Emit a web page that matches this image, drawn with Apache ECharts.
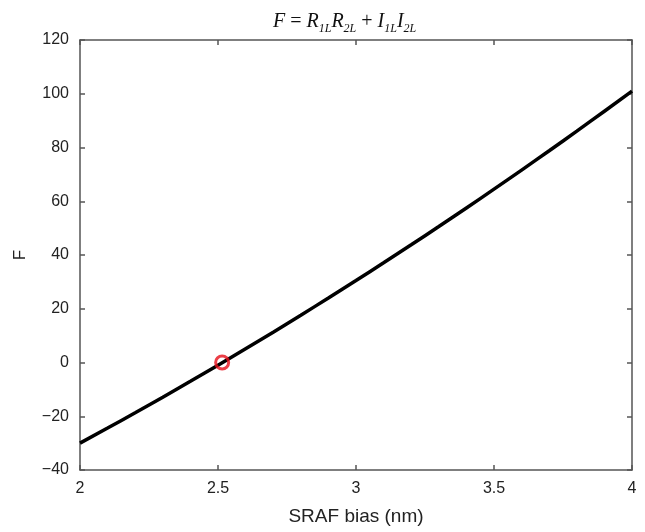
<!DOCTYPE html>
<html>
<head>
<meta charset="utf-8">
<script src="https://cdn.jsdelivr.net/npm/echarts@6/dist/echarts.min.js"></script>
<style>html,body{margin:0;padding:0;background:#fff}#c{width:645px;height:532px}</style>
</head>
<body>
<div id="c"></div>
<script>
var biasValues = [2.0, 2.1, 2.2, 2.3, 2.4, 2.5, 2.6, 2.7, 2.8, 2.9, 3.0, 3.1, 3.2, 3.3, 3.4, 3.5, 3.6, 3.7, 3.8, 3.9, 4.0];
var fValues = [-30, -24.4, -18.7, -12.9, -7.0, -1.0, 5.1, 11.3, 17.6, 24.0, 30.5, 37.1, 43.8, 50.6, 57.5, 64.5, 71.6, 78.8, 86.1, 93.5, 101];
var zeroPoint = [2.515, 0];
var xTicks = [2, 2.5, 3, 3.5, 4];
var yTicks = [-40, -20, 0, 20, 40, 60, 80, 100, 120];

var lineData = biasValues.map(function (x, i) { return [x, fValues[i]]; });
var chart = echarts.init(document.getElementById('c'));
var axisColor = '#555';
var labelFont = { fontFamily: 'Liberation Sans, Arial, sans-serif', fontSize: 16, color: '#222' };
function fmt(v) { return String(v).replace('-', '\u2212'); }
var common = {
  axisLine: { show: true, onZero: false, lineStyle: { color: axisColor, width: 1.5 } },
  axisTick: { show: true, inside: true, length: 5, lineStyle: { color: axisColor, width: 1.5 } },
  splitLine: { show: false }
};
var serif = 'Liberation Serif, Times New Roman, serif';
chart.setOption({
  animation: false,
  title: {
    left: 268, top: 2,
    text: '{i|F} {n|=} {i|R}{s|1L}{i|R}{s|2L} {n|+} {i|I}{s|1L}{i|I}{s|2L}',
    textStyle: {
      fontWeight: 'normal',
      rich: {
        i: { fontFamily: serif, fontStyle: 'italic', fontWeight: 'normal', fontSize: 20, color: '#111', lineHeight: 25, verticalAlign: 'bottom' },
        n: { fontFamily: serif, fontWeight: 'normal', fontSize: 20, color: '#111', lineHeight: 25, verticalAlign: 'bottom' },
        s: { fontFamily: serif, fontStyle: 'italic', fontWeight: 'normal', fontSize: 12, color: '#111', lineHeight: 25, verticalAlign: 'bottom', padding: [0, 0, -3, 0] }
      }
    }
  },
  grid: { left: 80, right: 13, top: 40, bottom: 62, outerBoundsMode: 'none', containLabel: false },
  xAxis: [
    Object.assign({}, common, {
      type: 'value', min: 2, max: 4, interval: 0.5,
      name: 'SRAF bias (nm)', nameLocation: 'middle', nameGap: 37,
      nameTextStyle: { fontFamily: 'Liberation Sans, Arial, sans-serif', fontSize: 19, color: '#222' },
      axisLabel: Object.assign({ margin: 11, formatter: fmt }, labelFont)
    }),
    Object.assign({}, common, {
      type: 'value', min: 2, max: 4, interval: 0.5, position: 'top',
      axisLabel: { show: false }
    })
  ],
  yAxis: [
    Object.assign({}, common, {
      type: 'value', min: -40, max: 120, interval: 20,
      name: 'F', nameLocation: 'middle', nameGap: 51, nameRotate: 90,
      nameTextStyle: { fontFamily: 'Liberation Sans, Arial, sans-serif', fontSize: 17, color: '#222' },
      axisLabel: Object.assign({ margin: 11, formatter: fmt }, labelFont)
    }),
    Object.assign({}, common, {
      type: 'value', min: -40, max: 120, interval: 20, position: 'right',
      axisLabel: { show: false }
    })
  ],
  series: [
    {
      type: 'line', data: lineData, smooth: true, showSymbol: false,
      lineStyle: { color: '#000', width: 3.5 }, z: 2
    },
    {
      type: 'scatter', data: [zeroPoint], symbol: 'circle', symbolSize: 13,
      itemStyle: { color: 'rgba(0,0,0,0)', borderColor: '#e60f1a', borderWidth: 3 }, z: 3
    }
  ]
});
</script>
</body>
</html>
